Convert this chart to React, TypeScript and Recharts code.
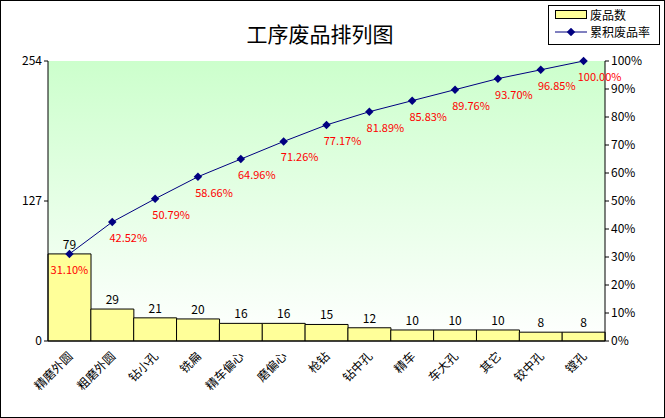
import { Bar, CartesianGrid, ComposedChart, LabelList, Line, XAxis, YAxis } from "recharts";

const categories = ["精磨外圆", "粗磨外圆", "钻小孔", "铣扁", "精车偏心", "磨偏心", "枪钻", "钻中孔", "精车", "车大孔", "其它", "铰中孔", "镗孔"];
const counts = [79, 29, 21, 20, 16, 16, 15, 12, 10, 10, 10, 8, 8];
const cumulative = [31.1, 42.52, 50.79, 58.66, 64.96, 71.26, 77.17, 81.89, 85.83, 89.76, 93.7, 96.85, 100.0];

const data = categories.map((name, i) => ({ name, count: counts[i], rate: cumulative[i] / 100 }));
const font = "'Noto Sans CJK SC', 'DejaVu Sans', sans-serif";

const XTick = (props: any) => {
  const { x, y, payload } = props;
  return (
    <text x={x + 4} y={y + 8} transform={`rotate(-45 ${x + 4} ${y + 8})`} textAnchor="end" fontSize={12} fontFamily={font} fill="#000">
      {payload.value}
    </text>
  );
};

export default function App() {
  return (
    <div style={{ position: "absolute", left: 0, top: 0, width: 665, height: 418, background: "#fff", fontFamily: font }}>
      <div style={{ position: "absolute", left: 0, top: 0, width: 663, height: 416, border: "1px solid #000" }} />
      <div style={{ position: "absolute", left: 0, width: 665, top: 18, textAlign: "center", fontSize: 21, paddingRight: 25, boxSizing: "border-box" }}>
        工序废品排列图
      </div>
      <div style={{ position: "absolute", left: 548, top: 5, width: 110, height: 38, border: "1px solid #000", background: "#fff", fontSize: 12, lineHeight: "17px", zIndex: 2 }}>
        <div style={{ display: "flex", alignItems: "center", paddingLeft: 6 }}>
          <span style={{ width: 30, height: 7, background: "#ffff99", border: "1px solid #000", marginRight: 3 }} />废品数
        </div>
        <div style={{ display: "flex", alignItems: "center", paddingLeft: 6 }}>
          <svg width={32} height={8} style={{ marginRight: 3 }}>
            <line x1={0} y1={4} x2={32} y2={4} stroke="#000080" />
            <rect x={13} y={1} width={6} height={6} fill="#000080" transform="rotate(45 16 4)" />
          </svg>
          累积废品率
        </div>
      </div>
      <ComposedChart width={665} height={418} data={data} barCategoryGap={0} margin={{ top: 61, right: 0, bottom: 0, left: 0 }}>
        <defs>
          <linearGradient id="bg" x1="0" y1="0" x2="0" y2="1">
            <stop offset="0%" stopColor="#ccffcc" />
            <stop offset="100%" stopColor="#ffffff" />
          </linearGradient>
        </defs>
        <CartesianGrid horizontal={false} vertical={false} fill="url(#bg)" stroke="#000" />
        <XAxis dataKey="name" interval={0} tickLine={false} stroke="#000" tick={<XTick />} height={77} />
        <YAxis yAxisId="l" domain={[0, 254]} ticks={[0, 127, 254]} width={48} stroke="#000" tickSize={4}
          tick={{ fontSize: 12, fill: "#000", fontFamily: font }} />
        <YAxis yAxisId="r" orientation="right" domain={[0, 1]} ticks={[0, 0.1, 0.2, 0.3, 0.4, 0.5, 0.6, 0.7, 0.8, 0.9, 1]} width={60}
          tickFormatter={(v: number) => `${Math.round(v * 100)}%`} stroke="#000" tickSize={4}
          tick={{ fontSize: 12, fill: "#000", fontFamily: font }} />
        <Bar yAxisId="l" dataKey="count" fill="#ffff99" stroke="#000" isAnimationActive={false}>
          <LabelList dataKey="count" position="top" fill="#000" fontSize={12} fontFamily={font} />
        </Bar>
        <Line yAxisId="r" dataKey="rate" stroke="#000080" strokeWidth={1} isAnimationActive={false}
          dot={(p: any) => <rect key={p.index} x={p.cx - 3} y={p.cy - 3} width={6} height={6} fill="#000080" transform={`rotate(45 ${p.cx} ${p.cy})`} />}>
          <LabelList dataKey="rate" content={(p: any) => (
            <text x={p.index === 0 ? p.x : p.x + 16} y={p.y + 20} textAnchor="middle" fill="#ff0000" fontSize={11} fontFamily={font}>
              {(p.value * 100).toFixed(2)}%
            </text>
          )} />
        </Line>
      </ComposedChart>
    </div>
  );
}
